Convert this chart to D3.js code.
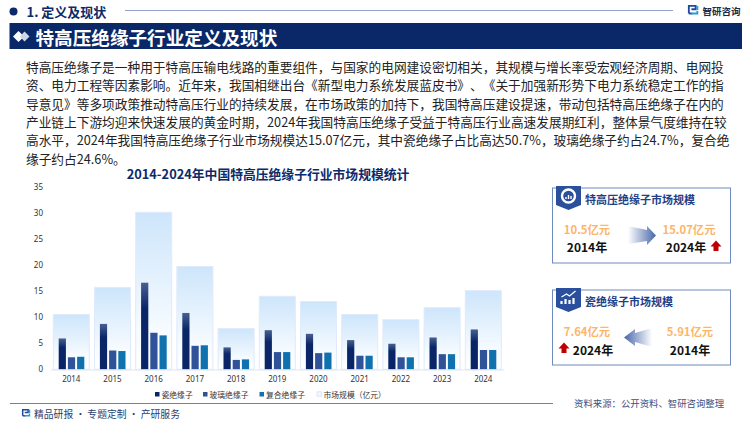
<!DOCTYPE html>
<html>
<head>
<meta charset="utf-8">
<script src="https://cdn.jsdelivr.net/npm/d3@7"></script>
<style>
html, body { margin: 0; padding: 0; background: #fff; }
svg { display: block; }
text { font-family: "Noto Sans CJK SC", "Noto Sans", sans-serif; text-spacing-trim: space-all; }
</style>
</head>
<body>
<div id="chart"></div>
<script>
var years = ["2014", "2015", "2016", "2017", "2018", "2019", "2020", "2021", "2022", "2023", "2024"];
var market = [10.5, 15.7, 30.1, 19.7, 7.8, 14.0, 13.0, 10.5, 9.5, 11.8, 15.07];
var porcelain = [5.91, 8.7, 16.6, 10.8, 4.2, 7.5, 6.8, 5.6, 4.9, 6.1, 7.64];
var glass = [2.3, 3.6, 7.0, 4.5, 1.8, 3.3, 3.1, 2.6, 2.3, 2.9, 3.7];
var composite = [2.4, 3.5, 6.5, 4.6, 1.9, 3.3, 3.2, 2.6, 2.3, 2.9, 3.7];
var yTicks = [0, 5, 10, 15, 20, 25, 30, 35];
var seriesNames = ["瓷绝缘子", "玻璃绝缘子", "复合绝缘子"];
var marketName = "市场规模（亿元）";
var bodyLines = [
    "特高压绝缘子是一种用于特高压输电线路的重要组件，与国家的电网建设密切相关，其规模与增长率受宏观经济周期、电网投",
    "资、电力工程等因素影响。近年来，我国相继出台《新型电力系统发展蓝皮书》、《关于加强新形势下电力系统稳定工作的指",
    "导意见》等多项政策推动特高压行业的持续发展，在市场政策的加持下，我国特高压建设提速，带动包括特高压绝缘子在内的",
    "产业链上下游均迎来快速发展的黄金时期，2024年我国特高压绝缘子受益于特高压行业高速发展期红利，整体景气度维持在较",
    "高水平，2024年我国特高压绝缘子行业市场规模达15.07亿元，其中瓷绝缘子占比高达50.7%，玻璃绝缘子约占24.7%，复合绝",
    "缘子约占24.6%。"
];

var svg = d3.select("#chart").append("svg").attr("width", 750).attr("height", 422);
var defs = svg.append("defs");

function vGrad(id, stops) {
    var g = defs.append("linearGradient").attr("id", id)
        .attr("x1", 0).attr("y1", 0).attr("x2", 0).attr("y2", 1);
    stops.forEach(function (s) {
        g.append("stop").attr("offset", s[0]).attr("stop-color", s[1]);
    });
}
vGrad("marketFill", [[0, "#cde5fb"], [0.75, "#f6fbff"], [1, "#ffffff"]]);
vGrad("porcelainFill", [[0, "#475f92"], [0.3, "#0b2668"], [1, "#0a2567"]]);

var arrowRight = defs.append("linearGradient").attr("id", "arrowRight");
arrowRight.append("stop").attr("offset", 0).attr("stop-color", "#ffffff");
arrowRight.append("stop").attr("offset", 1).attr("stop-color", "#4666a8");
var arrowLeft = defs.append("linearGradient").attr("id", "arrowLeft");
arrowLeft.append("stop").attr("offset", 0).attr("stop-color", "#4666a8");
arrowLeft.append("stop").attr("offset", 1).attr("stop-color", "#ffffff");

function label(x, y, str, size, color, weight, anchor) {
    return svg.append("text").attr("x", x).attr("y", y)
        .attr("font-size", size).attr("fill", color)
        .attr("font-weight", weight || 400)
        .attr("text-anchor", anchor || "start")
        .attr("dominant-baseline", "central")
        .text(str);
}

function logo(x, y, s) {
    var g = svg.append("g").attr("transform", "translate(" + x + "," + y + ") scale(" + s + ")")
        .attr("fill", "none").attr("stroke-width", 2.2);
    g.append("path").attr("d", "M1 10V1H9V5H4").attr("stroke", "#1f4a9c");
    g.append("path").attr("d", "M1 10H5").attr("stroke", "#1f4a9c");
    g.append("path").attr("d", "M11 1V6").attr("stroke", "#2a9bd8");
    g.append("path").attr("d", "M4 10H11V7").attr("stroke", "#2a9bd8");
}

// header
svg.append("circle").attr("cx", 13.5).attr("cy", 11.5).attr("r", 4).attr("fill", "#0c2a6a");
label(26.5, 11.5, "1. 定义及现状", 13, "#0c2a6a", 700);
svg.append("line").attr("x1", 125).attr("x2", 673).attr("y1", 10.5).attr("y2", 10.5)
    .attr("stroke", "#93a3cc").attr("stroke-width", 1);
logo(688, 5, 0.85);
label(702.5, 10.5, "智研咨询", 9.5, "#1d2a44", 700);

svg.append("rect").attr("x", 9.5).attr("y", 23).attr("width", 732.5).attr("height", 26).attr("fill", "#0a2767");
svg.append("path").attr("d", "M13 36.5L18.5 31L24 36.5L18.5 42Z").attr("fill", "#fff");
svg.append("path").attr("d", "M20 36.5L24.5 31.5L29.5 36.5L24.5 41.5Z").attr("fill", "#cdd6e8");
label(35.5, 36, "特高压绝缘子行业定义及现状", 18.6, "#fff", 700);

// body text
svg.selectAll("text.body").data(bodyLines).enter().append("text")
    .attr("class", "body")
    .attr("x", 26)
    .attr("y", function (d, i) { return 66.3 + i * 18.35; })
    .attr("font-size", 12.7)
    .attr("fill", "#222")
    .attr("dominant-baseline", "central")
    .text(function (d) { return d; });

// chart
label(268, 173.5, "2014-2024年中国特高压绝缘子行业市场规模统计", 12.8, "#0c2a6a", 700, "middle");

var x = d3.scaleBand().domain(years).range([50.7, 503.9]).paddingInner(0.126).paddingOuter(0.063);
var y = d3.scaleLinear().domain([0, 35]).range([369.3, 186.7]);
var x1 = d3.scaleBand().domain(seriesNames).range([0, 27.6]).paddingInner(0.217).paddingOuter(0.108);
var seriesValues = [porcelain, glass, composite];
var seriesFills = ["url(#porcelainFill)", "#2f5299", "#0f72ae"];
var legendFills = ["#0a2567", "#2f5299", "#0f72ae"];

svg.append("g").selectAll("rect").data(years).enter().append("rect")
    .attr("x", function (d) { return x(d); })
    .attr("y", function (d, i) { return y(market[i]); })
    .attr("width", x.bandwidth())
    .attr("height", function (d, i) { return y(0) - y(market[i]); })
    .attr("fill", "url(#marketFill)")
    .attr("stroke", "#dfeafb")
    .attr("stroke-width", 1);

seriesNames.forEach(function (name, s) {
    svg.append("g").selectAll("rect").data(years).enter().append("rect")
        .attr("x", function (d) { return x(d) + x.bandwidth() / 2 - 13.6 + x1(name); })
        .attr("y", function (d, i) { return y(seriesValues[s][i]); })
        .attr("width", x1.bandwidth())
        .attr("height", function (d, i) { return y(0) - y(seriesValues[s][i]); })
        .attr("fill", seriesFills[s]);
});

var xAxis = svg.append("g").attr("transform", "translate(0,369.5)")
    .call(d3.axisBottom(x).tickSize(0).tickPadding(7));
xAxis.select(".domain").attr("stroke", "#dfe5f0");
xAxis.selectAll("text").attr("font-size", 8).attr("fill", "#333")
    .style("font-family", '"Noto Sans", sans-serif');

var yAxis = svg.append("g").attr("transform", "translate(43,0)")
    .call(d3.axisLeft(y).tickValues(yTicks).tickSize(0).tickPadding(0));
yAxis.select(".domain").remove();
yAxis.selectAll("text").attr("font-size", 8).attr("fill", "#333")
    .style("font-family", '"Noto Sans", sans-serif');

// legend
var legendX = [155, 203, 259.5];
seriesNames.forEach(function (name, s) {
    svg.append("rect").attr("x", legendX[s]).attr("y", 392).attr("width", 4.5).attr("height", 4.5).attr("fill", legendFills[s]);
    label(legendX[s] + 6.5, 394, name, 7.8, "#333");
});
svg.append("rect").attr("x", 317).attr("y", 391.8).attr("width", 4.5).attr("height", 4.5)
    .attr("fill", "#f1f7fe").attr("stroke", "#d5e4fa").attr("stroke-width", 0.8);
label(323.5, 394, marketName, 7.8, "#333");

// footer
svg.append("line").attr("x1", 10).attr("x2", 553).attr("y1", 403.5).attr("y2", 403.5)
    .attr("stroke", "#6f80b0").attr("stroke-width", 1);
logo(22, 409, 0.68);
label(34, 413.5, "精品研报 · 专题定制 · 产研服务", 9.8, "#2b4070");
label(574, 402.5, "资料来源：公开资料、智研咨询整理", 9.4, "#3d5080");

// cards
function badge(cx, top, kind) {
    svg.append("path")
        .attr("d", "M" + (cx - 12.5) + " " + top + "H" + (cx + 12.5) + "V" + (top + 19) + "L" + cx + " " + (top + 24) + "L" + (cx - 12.5) + " " + (top + 19) + "Z")
        .attr("fill", "#2a4f9c");
    if (kind === "donut") {
        svg.append("circle").attr("cx", cx).attr("cy", top + 10).attr("r", 6.5)
            .attr("fill", "none").attr("stroke", "#fff").attr("stroke-width", 2.4);
        svg.append("path").attr("d", "M" + (cx - 2.5) + " " + (top + 13) + "v-2M" + cx + " " + (top + 13) + "v-4M" + (cx + 2.5) + " " + (top + 13) + "v-3")
            .attr("stroke", "#fff").attr("stroke-width", 1.4);
    } else {
        svg.append("path").attr("d", "M" + (cx - 7) + " " + (top + 16) + "v-3M" + (cx - 3) + " " + (top + 16) + "v-5M" + (cx + 1) + " " + (top + 16) + "v-4M" + (cx + 5) + " " + (top + 16) + "v-6")
            .attr("stroke", "#fff").attr("stroke-width", 2.2);
        svg.append("path").attr("d", "M" + (cx - 7) + " " + (top + 9) + "L" + (cx - 2) + " " + (top + 6) + "L" + (cx + 1) + " " + (top + 8) + "L" + (cx + 7) + " " + (top + 3))
            .attr("fill", "none").attr("stroke", "#fff").attr("stroke-width", 1.3);
    }
}

function upArrow(cx, cy) {
    svg.append("path")
        .attr("d", "M" + cx + " " + (cy - 5.5) + "L" + (cx + 5.5) + " " + (cy + 0.5) + "H" + (cx + 2.5) + "V" + (cy + 5) + "H" + (cx - 2.5) + "V" + (cy + 0.5) + "H" + (cx - 5.5) + "Z")
        .attr("fill", "#c00000");
}

function card(top, h, title, kind) {
    svg.append("rect").attr("x", 552.5).attr("y", top).attr("width", 178).attr("height", h)
        .attr("fill", "#fff").attr("stroke", "#6f8abf").attr("stroke-width", 1);
    badge(568.5, top - 2, kind);
    label(585, top + 10.5, title, 11, "#1f3f86", 700);
}

card(188, 75, "特高压绝缘子市场规模", "donut");
label(587, 229, "10.5亿元", 11.3, "#fdb56a", 700, "middle");
label(587, 246, "2014年", 12, "#111", 700, "middle");
label(689, 229, "15.07亿元", 11.3, "#fdb56a", 700, "middle");
label(686, 246, "2024年", 12, "#111", 700, "middle");
upArrow(716, 246);
svg.append("path").attr("d", "M628 226L647 230V226L656 235.5L647 245V241L628 244Z").attr("fill", "url(#arrowRight)");

card(290, 75, "瓷绝缘子市场规模", "chart");
label(587, 331, "7.64亿元", 11.3, "#fdb56a", 700, "middle");
label(593, 349, "2024年", 12, "#111", 700, "middle");
upArrow(564, 348);
label(690, 331, "5.91亿元", 11.3, "#fdb56a", 700, "middle");
label(690, 349, "2014年", 12, "#111", 700, "middle");
svg.append("path").attr("d", "M624 337.5L635 329V333L652 328V347L635 342V346Z").attr("fill", "url(#arrowLeft)");
</script>
</body>
</html>
